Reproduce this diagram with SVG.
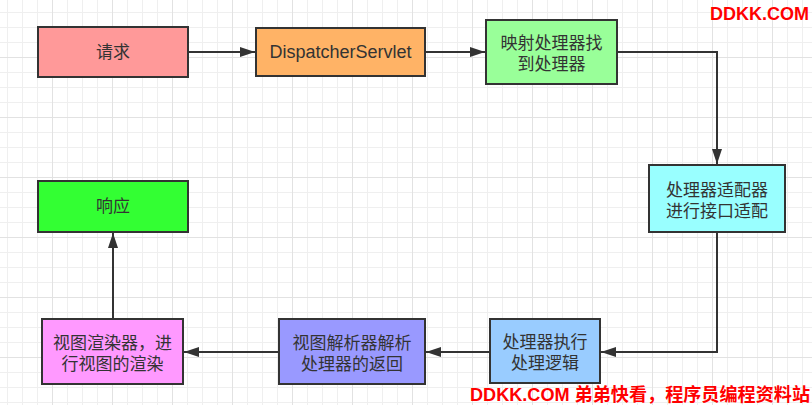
<svg xmlns="http://www.w3.org/2000/svg" width="812" height="405" viewBox="0 0 812 405">
<style>
.box{stroke:#333;stroke-width:2}
.t{font-family:"Liberation Sans","Noto Sans CJK SC",sans-serif;font-size:17px;fill:#333;text-anchor:middle}
.c{fill:none;stroke:#333;stroke-width:2}
.wm{font-family:"Liberation Sans","Noto Sans CJK SC",sans-serif;font-weight:bold;font-size:18px;fill:#ff0000}
</style>
<defs>
<pattern id="minor" width="15" height="15" patternUnits="userSpaceOnUse" x="7" y="12">
<path d="M0.5,0 V15 M0,0.5 H15" fill="none" stroke="#efefef" stroke-width="1"/>
</pattern>
<pattern id="major" width="60" height="60" patternUnits="userSpaceOnUse" x="52" y="57">
<path d="M0.5,0 V60 M0,0.5 H60" fill="none" stroke="#e2e2e2" stroke-width="1"/>
</pattern>
<marker id="arr" markerUnits="userSpaceOnUse" markerWidth="15" markerHeight="10" refX="15" refY="5" orient="auto">
<path d="M0,0 L15,5 L0,10 z" fill="#333"/>
</marker>
</defs>
<rect width="812" height="405" fill="#fff"/>
<rect width="812" height="405" fill="url(#minor)"/>
<rect width="812" height="405" fill="url(#major)"/>

<g id="connectors">
<path class="c" d="M188,52 H255" marker-end="url(#arr)"/>
<path class="c" d="M425,52 H485" marker-end="url(#arr)"/>
<path class="c" d="M617,52 H717 V164" marker-end="url(#arr)"/>
<path class="c" d="M717,232 V352 H601" marker-end="url(#arr)"/>
<path class="c" d="M490,352 H426" marker-end="url(#arr)"/>
<path class="c" d="M279,352 H184" marker-end="url(#arr)"/>
<path class="c" d="M113,319 V233" marker-end="url(#arr)"/>
</g>

<g id="request">
<rect class="box" x="38" y="27" width="150" height="50" fill="#ff9999"/>
<text class="t" x="113" y="58">请求</text>
</g>
<g id="dispatcher">
<rect class="box" x="256" y="28" width="169" height="48" fill="#ffb366"/>
<text class="t" x="340.5" y="58" style="font-size:18px">DispatcherServlet</text>
</g>
<g id="mapping">
<rect class="box" x="486" y="20" width="131" height="64" fill="#99ff99"/>
<text class="t"><tspan x="551.5" y="49">映射处理器找</tspan><tspan x="551.5" y="70">到处理器</tspan></text>
</g>
<g id="adapter">
<rect class="box" x="649" y="165" width="136" height="67" fill="#99ffff"/>
<text class="t"><tspan x="717" y="196">处理器适配器</tspan><tspan x="717" y="217">进行接口适配</tspan></text>
</g>
<g id="execute">
<rect class="box" x="490" y="319" width="110" height="64" fill="#99ccff"/>
<text class="t"><tspan x="545" y="348">处理器执行</tspan><tspan x="545" y="369">处理逻辑</tspan></text>
</g>
<g id="resolver">
<rect class="box" x="279" y="319" width="146" height="65" fill="#9999ff"/>
<text class="t"><tspan x="352" y="349">视图解析器解析</tspan><tspan x="352" y="370">处理器的返回</tspan></text>
</g>
<g id="render">
<rect class="box" x="42" y="319" width="141" height="65" fill="#ff99ff"/>
<text class="t"><tspan x="112.5" y="349">视图渲染器，进</tspan><tspan x="112.5" y="370">行视图的渲染</tspan></text>
</g>
<g id="response">
<rect class="box" x="38" y="181" width="150" height="51" fill="#33ff33"/>
<text class="t" x="113" y="212">响应</text>
</g>

<text class="wm" x="809" y="20" text-anchor="end">DDKK.COM</text>
<text class="wm" x="470" y="401" textLength="340" lengthAdjust="spacingAndGlyphs">DDKK.COM 弟弟快看，程序员编程资料站</text>
</svg>
